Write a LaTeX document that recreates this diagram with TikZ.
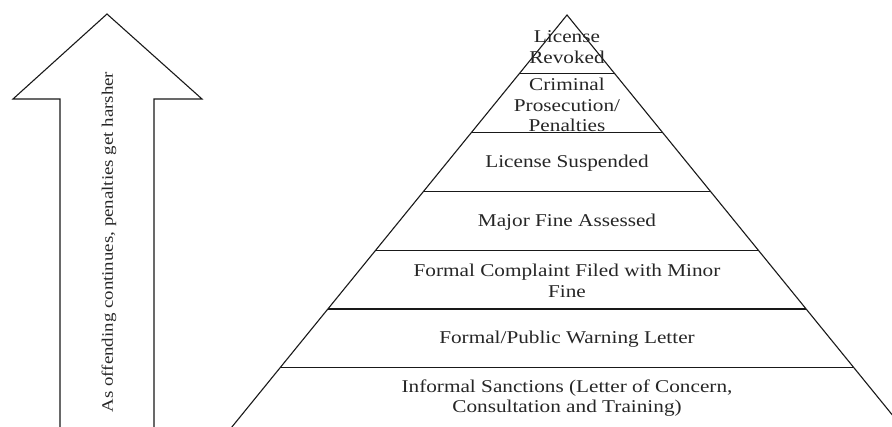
\documentclass[tikz,border=0pt]{standalone}
\usepackage{fontspec}
\setmainfont[FakeStretch=1.18]{Liberation Serif}
\begin{document}
\begin{tikzpicture}[x=1pt,y=-1pt,
  lbl/.style={align=center, font=\fontsize{18}{20.5}\selectfont, inner sep=0pt, text=black!85},
  sidelbl/.style={font=\fontsize{16}{19}\selectfont, inner sep=0pt, text=black!85},
  outline/.style={draw=black!90, line width=1.1pt},
  band/.style={draw=black!90, line width=1.1pt}]
\useasboundingbox (0,0) rectangle (892,426);
\begin{scope}
\clip (0,0) rectangle (892,426);
% arrow
\draw[outline, line join=miter] (107,14) -- (202,99) -- (154,99) -- (154,440) -- (60,440) -- (60,99) -- (13,99) -- cycle;
\node[sidelbl, rotate=90] (arrowtext) at (109,242) {As offending continues, penalties get harsher};
% pyramid
\coordinate (apex) at (567,15);
\coordinate (bl) at (221.3,440);
\coordinate (br) at (912.7,440);
\draw[outline, line join=miter] (bl) -- (apex) -- (br);
\foreach \y in {73.8,132.6,191.4,250.2,309,367.8} {
  \pgfmathsetmacro{\hw}{0.8134*(\y-15)}
  \draw[band] ({567-\hw},\y) -- ({567+\hw},\y);
}
\node[lbl] (t1) at (567,47) {License\\Revoked};
\node[lbl] (t2) at (567,105) {Criminal\\Prosecution/\\Penalties};
\node[lbl] (t3) at (567,163) {License Suspended};
\node[lbl] (t4) at (567,222) {Major Fine Assessed};
\node[lbl] (t5) at (567,281) {Formal Complaint Filed with Minor\\Fine};
\node[lbl] (t6) at (567,339) {Formal/Public Warning Letter};
\node[lbl] (t7) at (567,398) {Informal Sanctions (Letter of Concern,\\Consultation and Training)};
\end{scope}
\end{tikzpicture}
\end{document}
